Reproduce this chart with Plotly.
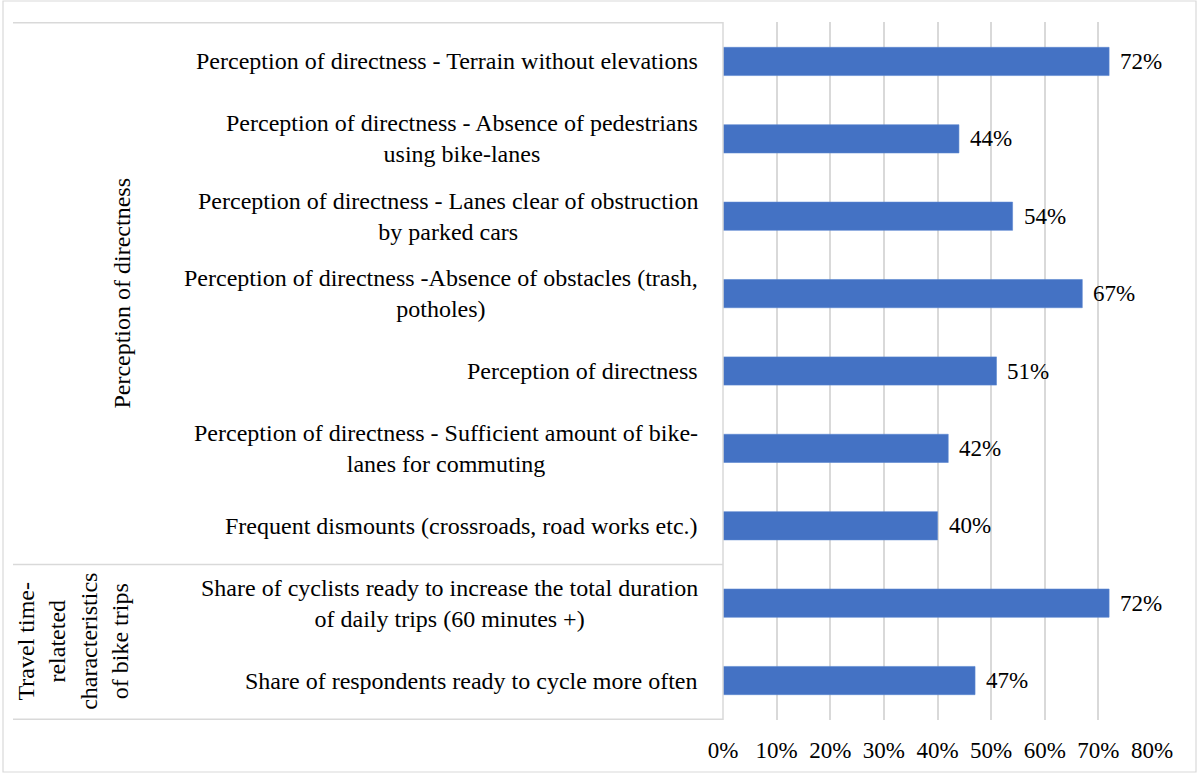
import plotly.graph_objects as go

# ---- data ----
categories = [
    "Perception of directness - Terrain without elevations",
    "Perception of directness - Absence of pedestrians<br>using bike-lanes",
    "Perception of directness - Lanes clear of obstruction<br>by parked cars",
    "Perception of directness -Absence of obstacles (trash,<br>potholes)",
    "Perception of directness",
    "Perception of directness - Sufficient amount of bike-<br>lanes for commuting",
    "Frequent dismounts (crossroads, road works etc.)",
    "Share of cyclists ready to increase the total duration<br>of daily trips (60 minutes +)",
    "Share of respondents ready to cycle more often",
]
values = [0.72, 0.44, 0.54, 0.67, 0.51, 0.42, 0.40, 0.72, 0.47]
group_names = ["Perception of directness",
               "Travel time-<br>relateted<br>characteristics<br>of bike trips"]
group_sizes = [7, 2]
x_ticks = [0, 0.1, 0.2, 0.3, 0.4, 0.5, 0.6, 0.7, 0.8]

# ---- layout constants ----
W, H = 1198, 774
L, R, T, B = 723, 46, 22, 54
PW = W - L - R
PH = H - T - B
FONT = "Liberation Serif, Times New Roman, serif"
FS = 24
FSN = 23
GRID = "#D9D9D9"
BAR = "#4472C4"


def px_x(px):
    return (px - L) / PW


def px_y(py):
    return (H - B - py) / PH


fig = go.Figure()
fig.add_trace(go.Bar(
    x=values, y=categories, orientation="h", width=0.365,
    marker=dict(color=BAR, line=dict(color="#5A86D0", width=0.6)),
    hoverinfo="x+y", showlegend=False,
))

annotations = []
# category labels (centered multi-line, right aligned block)
for c in categories:
    annotations.append(dict(
        x=0, xref="paper", y=c, yref="y", text=c, showarrow=False,
        xanchor="right", yanchor="middle", align="center", xshift=-23,
        font=dict(family=FONT, size=FS, color="#000000"),
    ))
# value labels
for c, v in zip(categories, values):
    annotations.append(dict(
        x=v, xref="x", y=c, yref="y", text=f"{round(v*100)}%",
        showarrow=False, xanchor="left", yanchor="middle", xshift=9,
        font=dict(family=FONT, size=FSN, color="#000000"),
    ))

shapes = []
# group labels and separators
start = 0
group_x = [px_x(122), px_x(73)]
line_x0 = px_x(13)
bounds = [-0.5]
for gi, (g, n) in enumerate(zip(group_names, group_sizes)):
    mid = start + (n - 1) / 2
    annotations.append(dict(
        x=group_x[gi], xref="paper", y=mid, yref="y", text=g, showarrow=False,
        textangle=-90, xanchor="center", yanchor="middle", align="center",
        font=dict(family=FONT, size=FS, color="#000000"),
    ))
    start += n
    bounds.append(start - 0.5)
for b in bounds:
    shapes.append(dict(type="line", xref="paper", yref="y", x0=line_x0, x1=0,
                       y0=b, y1=b, line=dict(color=GRID, width=1.5)))
# left axis line
shapes.append(dict(type="line", xref="paper", yref="paper", x0=0, x1=0,
                   y0=0, y1=1, line=dict(color=GRID, width=1.5)))
# chart area border
shapes.append(dict(type="rect", xref="paper", yref="paper",
                   x0=px_x(3), x1=px_x(1196), y0=px_y(772), y1=px_y(1),
                   line=dict(color=GRID, width=1.2), fillcolor="rgba(0,0,0,0)",
                   layer="below"))

fig.update_layout(
    width=W, height=H,
    margin=dict(l=L, r=R, t=T, b=B, pad=0),
    paper_bgcolor="white", plot_bgcolor="white",
    font=dict(family=FONT, size=FS, color="#000000"),
    annotations=annotations, shapes=shapes,
    bargap=0.6,
)
fig.update_xaxes(
    range=[0, 0.8], tickvals=x_ticks, tickformat=".0%",
    showgrid=True, gridcolor=GRID, gridwidth=1.5, zeroline=False,
    showline=False, ticks="", ticklabelstandoff=14,
    tickfont=dict(family=FONT, size=FSN, color="#000000"),
    fixedrange=True,
)
fig.update_yaxes(
    categoryorder="array", categoryarray=categories, autorange="reversed",
    showticklabels=False, showgrid=False, zeroline=False, showline=False,
    ticks="", fixedrange=True,
)

fig.write_html(
    "out.html",
    config={"displayModeBar": False},
    post_script="document.body.style.margin='0';document.body.style.padding='0';",
)
